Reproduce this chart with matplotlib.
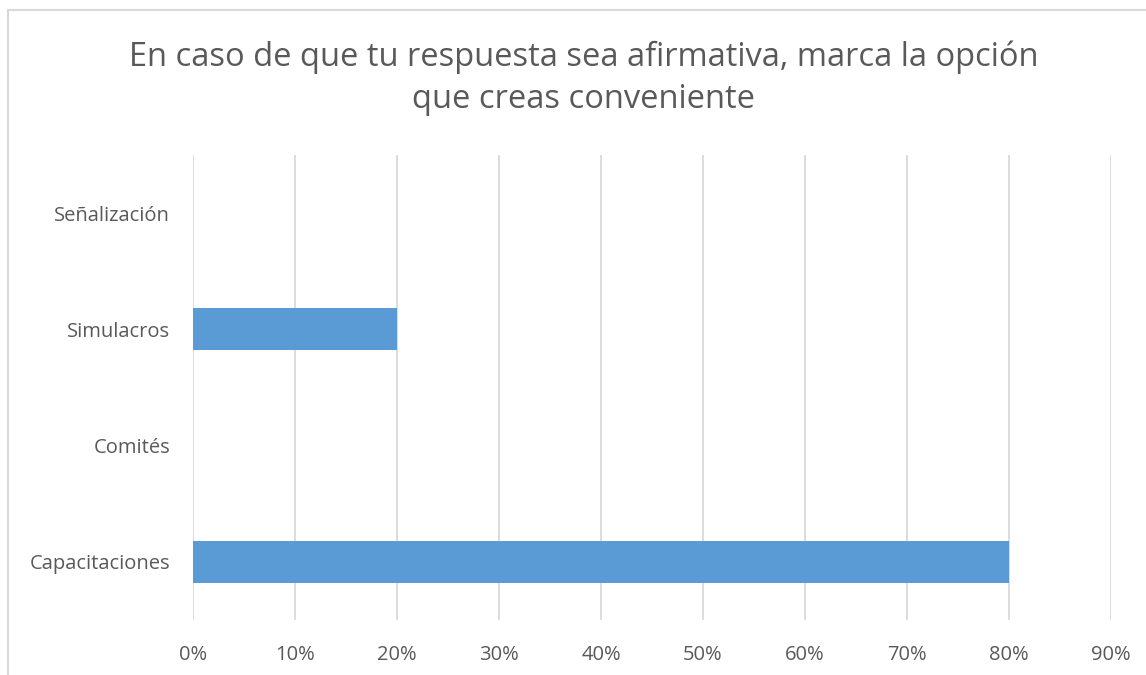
import matplotlib
matplotlib.use('Agg')
import matplotlib.pyplot as plt
from matplotlib.patches import Rectangle
from matplotlib.ticker import PercentFormatter

# Chart data
categories = ['Capacitaciones', 'Comités', 'Simulacros', 'Señalización']
values = [0.80, 0.0, 0.20, 0.0]
x_ticks = [0.0, 0.1, 0.2, 0.3, 0.4, 0.5, 0.6, 0.7, 0.8, 0.9]

title = 'En caso de que tu respuesta sea afirmativa, marca la opción\nque creas conveniente'

plt.rcParams['font.family'] = ['Open Sans', 'DejaVu Sans']

fig = plt.figure(figsize=(11.46, 6.75), dpi=100)
ax = fig.add_axes([193 / 1146, 1 - 620 / 675, (1111 - 193) / 1146, 465 / 675])

# Chart border (clipped by the image on the right and bottom)
fig.patches.append(Rectangle((8 / 1146, -0.1), 1.2, 1 - 10 / 675 + 0.1,
                             transform=fig.transFigure, fill=False,
                             edgecolor='#D9D9D9', linewidth=1.5))

ax.barh(range(len(categories)), values, height=0.36, color='#5B9BD5', zorder=3)

ax.set_xlim(0, 0.9)
ax.set_ylim(-0.5, len(categories) - 0.5)
ax.set_xticks(x_ticks)
ax.xaxis.set_major_formatter(PercentFormatter(1.0, decimals=0))
ax.set_yticks(range(len(categories)))
ax.set_yticklabels(categories)

ax.grid(axis='x', color='#D9D9D9', linewidth=1.3, zorder=0)
for side in ['top', 'right', 'bottom', 'left']:
    ax.spines[side].set_visible(False)
ax.tick_params(axis='both', length=0, labelsize=14.5, labelcolor='#595959')
ax.tick_params(axis='x', pad=18)
ax.tick_params(axis='y', pad=16.5)

fig.text(0.509, 1 - 78 / 675, title, ha='center', va='center',
         fontsize=23.5, color='#595959', linespacing=1.35)

plt.savefig('out.png', dpi=100)
plt.close()
